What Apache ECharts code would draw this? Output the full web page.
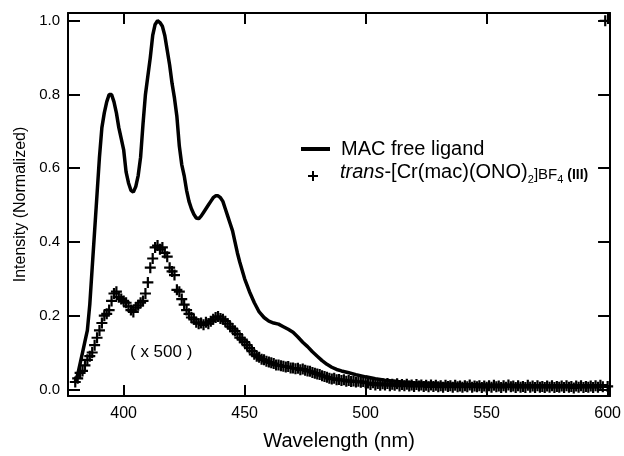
<!DOCTYPE html>
<html>
<head>
<meta charset="utf-8">
<script src="https://cdn.jsdelivr.net/npm/echarts@6/dist/echarts.min.js"></script>
<style>
  html, body { margin: 0; padding: 0; background: #fff; }
  #chart1 { width: 624px; height: 456px; }
</style>
</head>
<body>
<div id="chart1"></div>
<script>
// MAC free ligand emission (solid line)
var ligandWl = [380, 381, 382, 383, 384, 385, 386, 387, 388, 389,
  390, 391, 392, 393, 394, 395, 396, 397, 398, 399,
  400, 401, 402, 403, 404, 405, 406, 407, 408, 409,
  410, 411, 412, 413, 414, 415, 416, 417, 418, 419,
  420, 421, 422, 423, 424, 425, 426, 427, 428, 429,
  430, 431, 432, 433, 434, 435, 436, 437, 438, 439,
  440, 441, 442, 443, 444, 445, 446, 447, 448, 450,
  452, 454, 456, 458, 460, 462, 464, 466, 468, 470,
  472, 474, 476, 478, 480, 482, 484, 486, 488, 490,
  493, 496, 500, 504, 508, 515, 520, 530, 540, 550,
  560, 570, 580, 590, 600];
var ligandInt = [0.02, 0.04, 0.07, 0.10, 0.13, 0.16, 0.23, 0.33, 0.43, 0.53,
  0.63, 0.71, 0.75, 0.78, 0.80, 0.80, 0.78, 0.75, 0.71, 0.68,
  0.65, 0.59, 0.56, 0.54, 0.535, 0.55, 0.58, 0.63, 0.72, 0.80,
  0.85, 0.90, 0.96, 0.99, 1.00, 0.995, 0.985, 0.96, 0.92, 0.88,
  0.83, 0.79, 0.74, 0.66, 0.61, 0.58, 0.54, 0.51, 0.49, 0.475,
  0.465, 0.463, 0.47, 0.48, 0.49, 0.50, 0.51, 0.52, 0.525, 0.525,
  0.52, 0.51, 0.49, 0.47, 0.45, 0.43, 0.40, 0.37, 0.345, 0.30,
  0.265, 0.235, 0.21, 0.195, 0.185, 0.18, 0.177, 0.17, 0.163, 0.155,
  0.142, 0.128, 0.116, 0.102, 0.09, 0.078, 0.068, 0.06, 0.054, 0.05,
  0.045, 0.04, 0.034, 0.029, 0.025, 0.02, 0.018, 0.015, 0.013, 0.012,
  0.011, 0.01, 0.01, 0.01, 0.01];

// Cr complex emission, x 500 (crosses)
var complexWl = [380, 381, 382, 383, 384, 385, 386, 387, 388, 389,
  390, 391, 392, 393, 394, 395, 396, 397, 398, 399,
  400, 401, 402, 403, 404, 405, 406, 407, 408, 409,
  410, 411, 412, 413, 414, 415, 416, 417, 418, 419,
  420, 421, 422, 423, 424, 425, 426, 427, 428, 429,
  430, 431, 432, 433, 434, 435, 436, 437, 438, 439,
  440, 441, 442, 443, 444, 445, 446, 447, 448, 449,
  450, 451, 452, 453, 454, 455, 456, 457, 458, 459,
  460, 461, 462, 463, 464, 465, 466, 467, 468, 469,
  470, 471, 472, 473, 474, 475, 476, 477, 478, 479,
  480, 481, 482, 483, 484, 485, 486, 487, 488, 489,
  490, 491, 492, 493, 494, 495, 496, 497, 498, 499,
  500, 501, 502, 503, 504, 505, 506, 507, 508, 509,
  510, 511, 512, 513, 514, 515, 516, 517, 518, 519,
  520, 521, 522, 523, 524, 525, 526, 527, 528, 529,
  530, 531, 532, 533, 534, 535, 536, 537, 538, 539,
  540, 541, 542, 543, 544, 545, 546, 547, 548, 549,
  550, 551, 552, 553, 554, 555, 556, 557, 558, 559,
  560, 561, 562, 563, 564, 565, 566, 567, 568, 569,
  570, 571, 572, 573, 574, 575, 576, 577, 578, 579,
  580, 581, 582, 583, 584, 585, 586, 587, 588, 589,
  590, 591, 592, 593, 594, 595, 596, 597, 598, 599,
  600];
var complexInt = [0.02, 0.03, 0.045, 0.05, 0.065, 0.08, 0.09, 0.10, 0.12, 0.14,
  0.16, 0.18, 0.20, 0.205, 0.215, 0.24, 0.26, 0.265, 0.25, 0.245,
  0.24, 0.235, 0.225, 0.215, 0.21, 0.222, 0.228, 0.235, 0.24, 0.26,
  0.29, 0.33, 0.355, 0.385, 0.39, 0.38, 0.385, 0.37, 0.36, 0.33,
  0.32, 0.31, 0.27, 0.265, 0.245, 0.23, 0.215, 0.205, 0.195, 0.19,
  0.182, 0.178, 0.18, 0.175, 0.182, 0.178, 0.185, 0.19, 0.195, 0.198,
  0.192, 0.19, 0.185, 0.178, 0.17, 0.165, 0.158, 0.15, 0.14, 0.135,
  0.128, 0.12, 0.112, 0.104, 0.095, 0.09, 0.087, 0.082, 0.08, 0.076,
  0.074, 0.072, 0.07, 0.066, 0.066, 0.064, 0.063, 0.061, 0.062, 0.058,
  0.058, 0.056, 0.057, 0.053, 0.055, 0.052, 0.05, 0.049, 0.046, 0.044,
  0.042, 0.04, 0.037, 0.035, 0.033, 0.03, 0.028, 0.03, 0.026, 0.027,
  0.024, 0.026, 0.022, 0.024, 0.021, 0.023, 0.02, 0.022, 0.019, 0.021,
  0.018, 0.017, 0.013, 0.018, 0.012, 0.016, 0.011, 0.015, 0.012, 0.016,
  0.010, 0.014, 0.011, 0.015, 0.009, 0.013, 0.010, 0.014, 0.009, 0.012,
  0.008, 0.013, 0.009, 0.012, 0.008, 0.011, 0.007, 0.012, 0.008, 0.011,
  0.007, 0.010, 0.006, 0.011, 0.008, 0.010, 0.006, 0.011, 0.007, 0.009,
  0.006, 0.010, 0.007, 0.012, 0.006, 0.009, 0.007, 0.010, 0.005, 0.009,
  0.006, 0.010, 0.006, 0.011, 0.007, 0.009, 0.005, 0.010, 0.006, 0.012,
  0.007, 0.009, 0.005, 0.010, 0.006, 0.008, 0.005, 0.011, 0.006, 0.009,
  0.005, 0.010, 0.006, 0.008, 0.005, 0.009, 0.006, 0.010, 0.005, 0.008,
  0.006, 0.009, 0.005, 0.010, 0.006, 0.008, 0.004, 0.009, 0.006, 0.010,
  0.005, 0.008, 0.006, 0.009, 0.005, 0.010, 0.006, 0.011, 0.007, 1.000,
  0.008];

var xTicks = [400, 450, 500, 550, 600];
var yTicks = [0, 0.2, 0.4, 0.6, 0.8, 1.0];

var ligandName = 'MAC free ligand';
var complexName = 'trans-[Cr(mac)(ONO)2]BF4 (III)';

var font = 'Liberation Sans, Arial, sans-serif';
var plus = 'path://M4,0H6V4H10V6H6V10H4V6H0V4H4Z';

function zip(xs, ys) {
  return xs.map(function (x, i) { return [x, ys[i]]; });
}

function xAx(pos, labels) {
  return {
    type: 'value', position: pos, min: 377, max: 601,
    axisLine: { show: true, onZero: false, lineStyle: { color: '#000', width: 2 } },
    axisTick: { show: true, inside: true, length: 11, customValues: xTicks, lineStyle: { color: '#000', width: 2 } },
    axisLabel: { show: labels, customValues: xTicks, margin: 10, color: '#000', fontSize: 16, fontFamily: font },
    splitLine: { show: false },
    name: labels ? 'Wavelength (nm)' : '', nameLocation: 'middle', nameGap: 35,
    nameTextStyle: { color: '#000', fontSize: 20, fontFamily: font }
  };
}

function yAx(pos, labels) {
  return {
    type: 'value', position: pos, min: -0.018, max: 1.021,
    axisLine: { show: true, onZero: false, lineStyle: { color: '#000', width: 2 } },
    axisTick: { show: true, inside: true, length: 12, customValues: yTicks, lineStyle: { color: '#000', width: 2 } },
    axisLabel: { show: labels, customValues: yTicks, margin: 8, color: '#000', fontSize: 15, fontFamily: font,
      formatter: function (v) { return v.toFixed(1); } },
    splitLine: { show: false },
    name: labels ? 'Intensity (Normalized)' : '', nameLocation: 'middle', nameGap: 34,
    nameTextStyle: { color: '#000', fontSize: 16, fontFamily: font }
  };
}

var chart = echarts.init(document.getElementById('chart1'));

chart.setOption({
  animation: false,
  backgroundColor: '#fff',
  grid: { left: 68, right: 11, top: 13, bottom: 50 },
  xAxis: [xAx('bottom', true), xAx('top', false)],
  yAxis: [yAx('left', true), yAx('right', false)],
  legend: [{
    data: [ligandName], left: 301, top: 139, padding: 0,
    icon: 'rect', itemWidth: 29, itemHeight: 4,
    textStyle: { color: '#000', fontSize: 20, fontFamily: font, padding: [0, 0, 0, 6] }
  }, {
    data: [complexName], left: 308, top: 162, padding: 0,
    icon: plus, itemWidth: 10, itemHeight: 10,
    formatter: function () {
      return '{i|trans}{n|-[Cr(mac)(ONO)}{s|2}{m|]BF}{s|4}{b| (III)}';
    },
    textStyle: {
      color: '#000', fontFamily: font, padding: [0, 0, 0, 17],
      rich: {
        i: { fontSize: 20, fontStyle: 'italic', fontFamily: font, lineHeight: 20, verticalAlign: 'bottom', padding: [0, 0, 4, 0] },
        n: { fontSize: 20, fontFamily: font, lineHeight: 20, verticalAlign: 'bottom', padding: [0, 0, 4, 0] },
        m: { fontSize: 15, fontFamily: font, lineHeight: 15, verticalAlign: 'bottom', padding: [0, 0, 4, 0] },
        b: { fontSize: 14, fontWeight: 'bold', fontFamily: font, lineHeight: 14, verticalAlign: 'bottom', padding: [0, 0, 4, 0] },
        s: { fontSize: 11, fontFamily: font, lineHeight: 11, verticalAlign: 'bottom', padding: [0, 0, 1, 0] }
      }
    }
  }],
  graphic: [{
    type: 'text', left: 130, top: 344,
    style: { text: '( x 500 )', fill: '#000', fontSize: 17, fontFamily: font }
  }],
  series: [{
    type: 'line', name: ligandName,
    data: zip(ligandWl, ligandInt),
    showSymbol: false,
    lineStyle: { color: '#000', width: 3.5 },
    itemStyle: { color: '#000' },
    z: 3
  }, {
    type: 'scatter', name: complexName,
    data: zip(complexWl, complexInt),
    symbol: plus, symbolSize: 11,
    itemStyle: { color: '#000', opacity: 1 },
    z: 2
  }]
});
</script>
</body>
</html>
